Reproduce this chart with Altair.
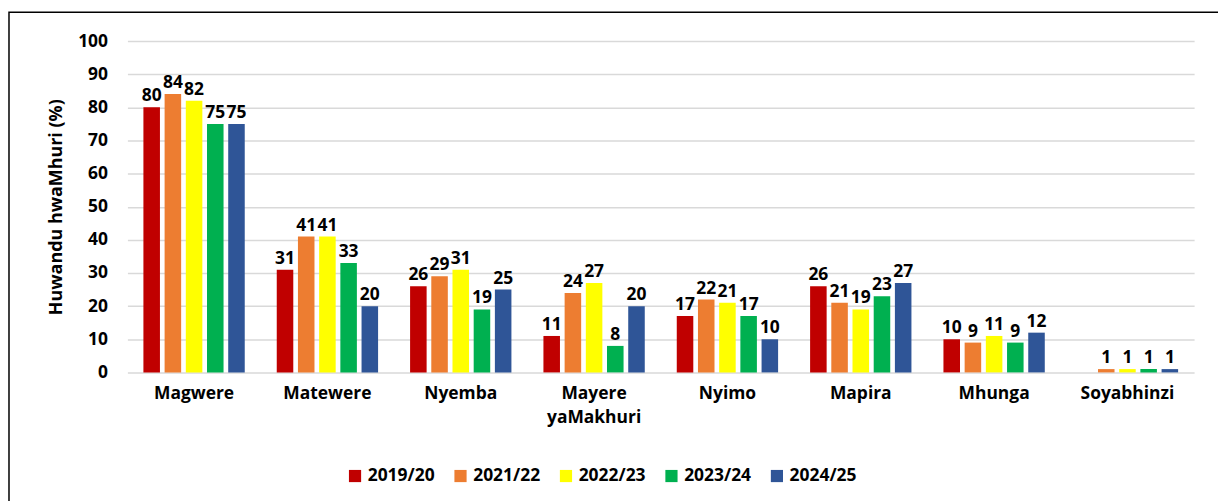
import altair as alt
import pandas as pd

crops = ["Magwere", "Matewere", "Nyemba", "Mayere yaMakhuri", "Nyimo", "Mapira", "Mhunga", "Soyabhinzi"]
years = ["2019/20", "2021/22", "2022/23", "2023/24", "2024/25"]
colors = ["#C00000", "#ED7D31", "#FFFF00", "#00B050", "#2F5597"]
y_ticks = [0, 10, 20, 30, 40, 50, 60, 70, 80, 90, 100]

v2019 = [80, 31, 26, 11, 17, 26, 10, None]
v2021 = [84, 41, 29, 24, 22, 21, 9, 1]
v2022 = [82, 41, 31, 27, 21, 19, 11, 1]
v2023 = [75, 33, 19, 8, 17, 23, 9, 1]
v2024 = [75, 20, 25, 20, 10, 27, 12, 1]

series = [v2019, v2021, v2022, v2023, v2024]
rows = []
for y, vals in zip(years, series):
    for c, v in zip(crops, vals):
        if v is not None:
            rows.append({"crop": c, "year": y, "value": v})
df = pd.DataFrame(rows)

FONT = "Open Sans"
FS = 17.5
W, H = 1072, 333

x_enc = alt.X("crop:N", sort=crops,
              scale=alt.Scale(paddingInner=0.24, paddingOuter=0.12),
              axis=alt.Axis(title=None, labelFont=FONT, labelFontSize=FS, labelFontWeight="bold",
                            labelColor="#000000", labelAngle=0, labelPadding=12, ticks=False,
                            domain=False, labelLineHeight=24, grid=False, labelBaseline="top",
                            labelExpr="datum.label == 'Mayere yaMakhuri' ? ['Mayere', 'yaMakhuri'] : datum.label"))
xo_enc = alt.XOffset("year:N", sort=years,
                     scale=alt.Scale(domain=years, paddingInner=0.22, paddingOuter=0))
y_enc = alt.Y("value:Q", scale=alt.Scale(domain=[0, 100], nice=False),
              axis=alt.Axis(title="Huwandu hwaMhuri (%)", values=y_ticks, tickCount=11,
                            labelFont=FONT, labelFontSize=FS, labelFontWeight="bold",
                            labelColor="#000000", labelPadding=20, ticks=False, domain=False,
                            labelOverlap=False,
                            gridColor="#D9D9D9", gridWidth=1.5,
                            titleFont=FONT, titleFontSize=18, titleFontWeight="bold",
                            titleColor="#000000", titlePadding=12))

base = alt.Chart(df).encode(x=x_enc, xOffset=xo_enc, y=y_enc)

bars = base.mark_bar().encode(
    color=alt.Color("year:N", sort=years, scale=alt.Scale(domain=years, range=colors),
                    legend=alt.Legend(title=None, orient="none", direction="horizontal",
                                      legendX=220, legendY=428, symbolType="square",
                                      symbolSize=150, symbolStrokeWidth=0,
                                      labelFont=FONT, labelFontSize=FS, labelFontWeight="bold",
                                      labelColor="#000000", columnPadding=17, labelOffset=4)),
)

labels = base.mark_text(font=FONT, fontSize=FS, fontWeight="bold", color="#000000",
                        baseline="bottom", dy=-2).encode(text="value:Q")

border = alt.Chart(pd.DataFrame({"d": [0]})).mark_rect(
    fill=None, stroke="#000000", strokeWidth=1.5).encode(
    x=alt.value(-119), x2=alt.value(W + 200), y=alt.value(-29), y2=alt.value(H + 300)
)

chart = alt.layer(bars, labels, border).properties(
    width=W, height=H,
    autosize=alt.AutoSizeParams(type="none"),
    padding={"left": 120, "top": 32, "right": 24, "bottom": 128},
).configure_view(stroke=None)

chart.save("out.html", embed_options={"renderer": "svg", "actions": False})
